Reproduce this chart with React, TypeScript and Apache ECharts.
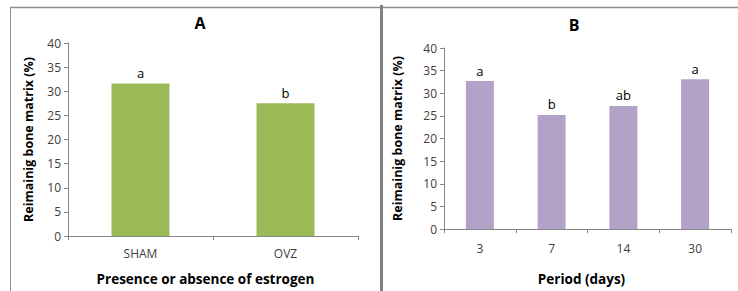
import React, { useEffect, useRef } from "react";
import * as echarts from "echarts";

const catsA = ["SHAM", "OVZ"];
const valsA = [31.6, 27.5];
const lettersA = ["a", "b"];

const catsB = ["3", "7", "14", "30"];
const valsB = [32.7, 25.2, 27.2, 33.1];
const lettersB = ["a", "b", "ab", "a"];

const yName = "Reimainig bone matrix (%)";
const xNameA = "Presence or absence of estrogen";
const xNameB = "Period (days)";

const FONT = "'Open Sans', 'Noto Sans', sans-serif";
const AXIS = "#868686";
const TEXT = "#404040";

export default function App() {
  const ref = useRef<HTMLDivElement>(null);
  useEffect(() => {
    if (!ref.current) return;
    const chart = echarts.init(ref.current, undefined, { renderer: "svg" });
    const yAxisCommon = (gap: number) => ({
      type: "value" as const,
      min: 0,
      max: 40,
      interval: 5,
      name: yName,
      nameLocation: "middle" as const,
      nameGap: gap,
      nameRotate: 90,
      nameTextStyle: { fontFamily: FONT, fontWeight: "bold" as const, fontSize: 12.5, color: "#000" },
      axisLine: { show: true, lineStyle: { color: AXIS } },
      axisTick: { show: true, length: 4, lineStyle: { color: AXIS } },
      axisLabel: { fontFamily: FONT, fontSize: 12, color: TEXT, margin: 7 },
      splitLine: { show: false },
    });
    const xAxisCommon = (cats: string[], name: string, margin: number, gap: number, shift: number) => ({
      type: "category" as const,
      data: cats,
      name,
      nameLocation: "middle" as const,
      nameGap: gap,
      nameTextStyle: { fontFamily: FONT, fontWeight: "bold" as const, fontSize: 13.5, color: "#000", padding: [0, shift, 0, 0] },
      axisLine: { show: true, lineStyle: { color: AXIS } },
      axisTick: { show: true, length: 4, alignWithLabel: false, lineStyle: { color: AXIS } },
      axisLabel: { fontFamily: FONT, fontSize: 12, color: TEXT, margin },
    });
    const labelCfg = (letters: string[]) => ({
      show: true,
      position: "top" as const,
      distance: 4,
      fontFamily: FONT,
      fontSize: 13,
      color: "#000",
      formatter: (p: any) => letters[p.dataIndex],
    });
    chart.setOption({
      animation: false,
      backgroundColor: "#fff",
      grid: [
        { left: 68, top: 43, width: 290, height: 194 },
        { left: 444, top: 48, width: 287, height: 184 },
      ],
      xAxis: [
        { ...xAxisCommon(catsA, xNameA, 11, 36, 15), gridIndex: 0 },
        { ...xAxisCommon(catsB, xNameB, 13, 43, 12), gridIndex: 1 },
      ],
      yAxis: [
        { ...yAxisCommon(33), gridIndex: 0 },
        { ...yAxisCommon(40), gridIndex: 1 },
      ],
      series: [
        {
          type: "bar",
          xAxisIndex: 0,
          yAxisIndex: 0,
          data: valsA,
          barWidth: "40%",
          itemStyle: { color: "#9BBB59" },
          label: labelCfg(lettersA),
        },
        {
          type: "bar",
          xAxisIndex: 1,
          yAxisIndex: 1,
          data: valsB,
          barWidth: "39%",
          itemStyle: { color: "#B3A2C7" },
          label: labelCfg(lettersB),
        },
      ],
      graphic: [
        { type: "line", shape: { x1: 10, y1: 7.5, x2: 738, y2: 7.5 }, style: { stroke: "#8c8c8c", lineWidth: 1.5 } },
        { type: "line", shape: { x1: 10.5, y1: 7, x2: 10.5, y2: 291 }, style: { stroke: "#8c8c8c", lineWidth: 1 } },
        { type: "rect", shape: { x: 380, y: 5, width: 3, height: 286 }, style: { fill: "#808080" } },
        {
          type: "text",
          x: 200,
          y: 23,
          style: { text: "A", fontFamily: FONT, fontWeight: "bold", fontSize: 16, fill: "#000", align: "center", verticalAlign: "middle" },
        },
        {
          type: "text",
          x: 574,
          y: 25,
          style: { text: "B", fontFamily: FONT, fontWeight: "bold", fontSize: 16, fill: "#000", align: "center", verticalAlign: "middle" },
        },
      ],
    });
    return () => chart.dispose();
  }, []);
  return (
    <div
      ref={ref}
      style={{ position: "absolute", left: 0, top: 0, width: 738, height: 291 }}
    />
  );
}
